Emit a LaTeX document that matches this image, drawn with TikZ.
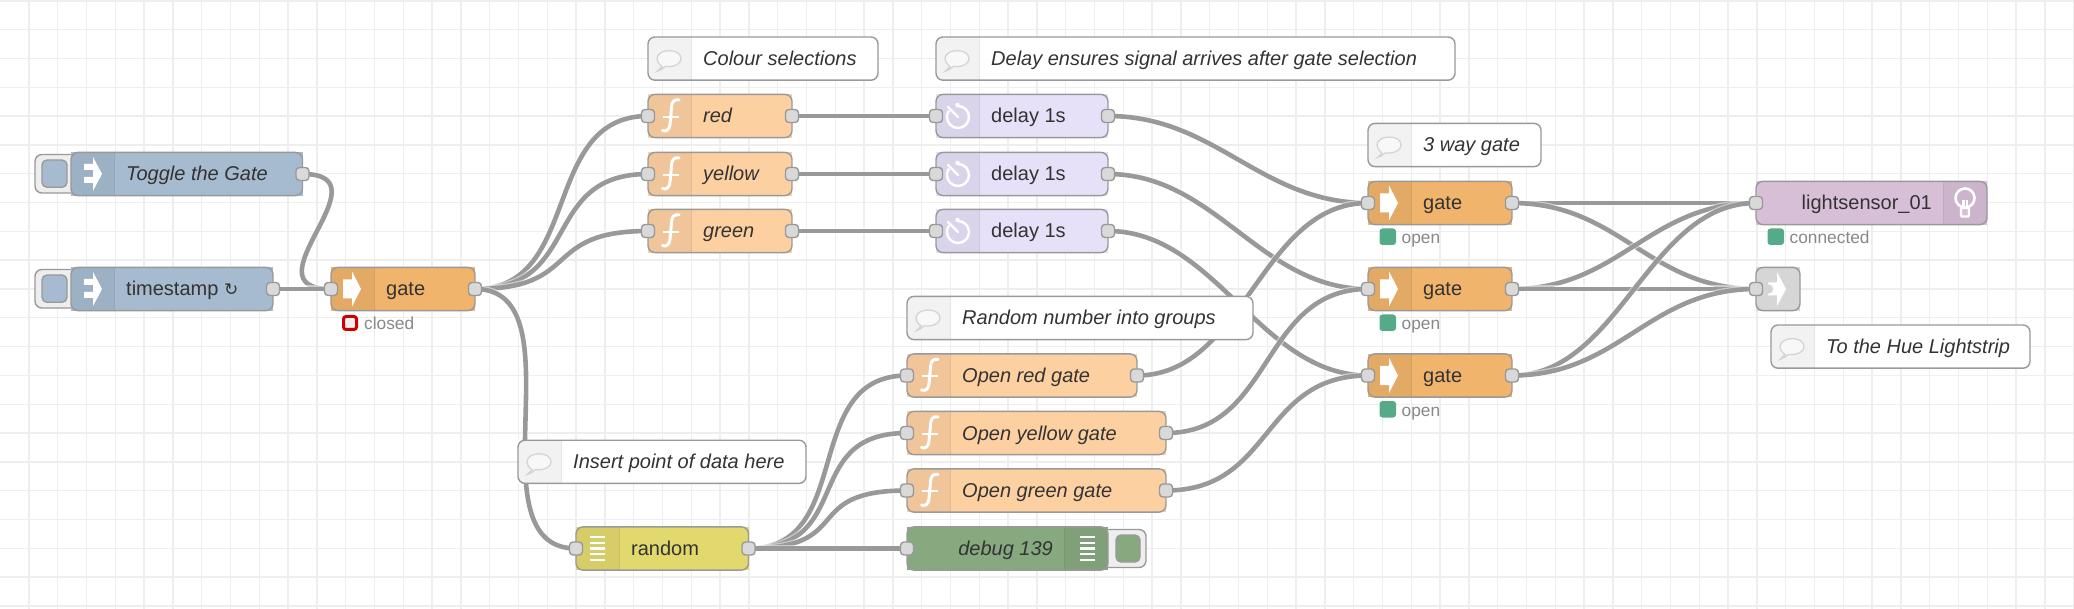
\documentclass[tikz,border=0pt]{standalone}
\usepackage{fontspec}
\setmainfont{Liberation Sans}
\newfontfamily\symfont{DejaVu Sans}
\usetikzlibrary{backgrounds}

\definecolor{gridcol}{HTML}{EEEEEE}
\definecolor{wirecol}{HTML}{999999}
\definecolor{edgecol}{HTML}{999999}
\definecolor{portcol}{HTML}{D9D9D9}
\definecolor{textcol}{HTML}{333333}
\definecolor{statuscol}{HTML}{888888}
\definecolor{injectcol}{HTML}{A6BBCF}
\definecolor{gatecol}{HTML}{F0B46C}
\definecolor{funccol}{HTML}{FDD0A2}
\definecolor{delaycol}{HTML}{E6E0F8}
\definecolor{randomcol}{HTML}{E2D96E}
\definecolor{debugcol}{HTML}{87A980}
\definecolor{huecol}{HTML}{D8BFD8}
\definecolor{linkcol}{HTML}{D6D6D6}
\definecolor{okcol}{HTML}{55AA88}
\definecolor{badcol}{HTML}{CC0000}
\definecolor{bubblecol}{HTML}{D4D4D4}

\tikzset{
  gridline/.style={gridcol,line width=1.4pt},
  wire/.style={wirecol,line width=4.6pt,preaction={draw=white,draw opacity=.5,line width=7pt}},
  flowbody/.style={shape=rectangle,inner sep=0pt,outer sep=0pt,minimum height=43.2pt},
  flowedge/.style={edgecol,line width=1.4pt,rounded corners=7pt},
  iconstrip/.style={fill=black,fill opacity=.05,draw=black,draw opacity=.1,line width=1.2pt},
  flowport/.style={shape=rectangle,rounded corners=3.5pt,draw=edgecol,fill=portcol,line width=1.4pt,
    minimum width=13pt,minimum height=13pt,inner sep=0pt},
  flowlabel/.style={inner sep=0pt,text=textcol,font=\fontsize{20}{24}\selectfont},
  statuslabel/.style={inner sep=0pt,text=statuscol,font=\fontsize{17.3}{20}\selectfont},
  iconline/.style={white,line width=2.4pt},
  buttonback/.style={edgecol,fill=gridcol,line width=1.4pt,rounded corners=7pt},
  buttonface/.style={edgecol,line width=1.4pt,rounded corners=5pt},
}

% box with its tinted icon strip, strip runs from #6 to #7
\newcommand{\flowbox}[7]{%
  \node[flowbody,fill=#5,minimum width={(#3-#2)*1pt}] (#1) at ({(#2+#3)/2},#4) {};
  \begin{scope}
    \clip[rounded corners=7pt] (#1.south west) rectangle (#1.north east);
    \path[iconstrip] (#6,0) rectangle (#7,609);
  \end{scope}
  \draw[flowedge] (#1.south west) rectangle (#1.north east);
}
% icon on the left, text after it
\newcommand{\leftnode}[6]{%
  \flowbox{#1}{#2}{#3}{#4}{#5}{#2-10}{#2+43.2}
  \node[flowlabel,anchor=base west] (#1text) at ({#2+55},{#4+7}) {#6};
}
% icon on the right, text before it
\newcommand{\rightnode}[6]{%
  \flowbox{#1}{#2}{#3}{#4}{#5}{#3-43.2}{#3+10}
  \node[flowlabel,anchor=base east] (#1text) at ({#3-55},{#4+7}) {#6};
}
\newcommand{\inport}[1]{\node[flowport] (#1in) at (#1.west) {};}
\newcommand{\outport}[1]{\node[flowport] (#1out) at (#1.east) {};}

% the comment boxes
\newcommand{\commentnode}[5]{%
  \leftnode{#1}{#2}{#3}{#4}{white}{\itshape #5}
  \begin{scope}[shift={(#1.west)}]
    \draw[bubblecol,line width=1.3pt,fill=white,fill opacity=.5]
      (14,8) .. controls (10,5) and (9,2) .. (9,0) .. controls (9,-5) and (15,-8) .. (21,-8)
      .. controls (28,-8) and (33,-5) .. (33,0) .. controls (33,5) and (27,8) .. (21,8)
      .. controls (19,8) and (18,8) .. (17,8) .. controls (15,10) and (12,12) .. (9.5,12.5)
      .. controls (11,11) and (13,9) .. (14,8) -- cycle;
  \end{scope}
}

% the icons
\newcommand{\injecticon}[1]{%
  \begin{scope}[shift={(#1.west)}]
    \fill[white] (13,-10) rectangle (22,-4) (13,3) rectangle (22,9)
      (22,-17) -- (31,0) -- (22,17) -- cycle;
  \end{scope}
}
\newcommand{\injectbutton}[1]{%
  \begin{scope}[shift={(#1.west)}]
    \draw[buttonback] (12,-19.5) -- (-36,-19.5) -- (-36,19) -- (12,19);
    \draw[buttonface,fill=injectcol] (-29,-14) rectangle (-4,13.3);
  \end{scope}
}
\newcommand{\gateicon}[1]{%
  \begin{scope}[shift={(#1.west)}]
    \fill[white] (12,-9.5) -- (21,-9.5) -- (21,-17.5) -- (30,0) -- (21,17.5) -- (21,9.5) -- (12,9.5) -- cycle;
  \end{scope}
}
\newcommand{\funcicon}[1]{%
  \begin{scope}[shift={(#1.west)}]
    \draw[white,line width=3pt,line cap=round] (31,-16) .. controls (26,-17) and (24,-14) .. (23.7,-10)
      -- (22,8) .. controls (21.5,14) and (18,16) .. (14.5,14.5);
    \draw[white,line width=2pt] (15,0.7) -- (31,0.7);
  \end{scope}
}
\newcommand{\delayicon}[1]{%
  \begin{scope}[shift={(#1.west)}]
    \draw[iconline] (22,-10) arc[start angle=-90,end angle=215,radius=11];
    \draw[iconline,line cap=round] (12,-9) -- (22,1);
    \fill[white] (21.5,-11) circle (2.2);
  \end{scope}
}
\newcommand{\listicon}[2]{%
  \begin{scope}[shift={(#1.west)}]
    \foreach \row in {-11.5,-5.75,0,5.75,11.5}
      \fill[white] (#2,\row-1.1) rectangle (#2+15,\row+1.1);
  \end{scope}
}
\newcommand{\bulbicon}[1]{%
  \begin{scope}[shift={(#1.east)}]
    \draw[iconline,line width=2.6pt] (-22,-5) circle (9.5);
    \draw[iconline] (-23.7,-3) -- (-23.7,6) (-20.3,-3) -- (-20.3,6);
    \draw[iconline,fill=huecol,rounded corners=1pt] (-26,5) rectangle (-18,13.5);
  \end{scope}
}
\newcommand{\linkicon}[1]{%
  \begin{scope}[shift={(#1.west)}]
    \fill[white] (12,-6.5) -- (21,-6.5) -- (21,-17) -- (30,0) -- (21,17) -- (21,6.5) -- (12,6.5) -- cycle;
    \fill[linkcol] (12.5,0) circle (4.7);
  \end{scope}
}
% status under a node
\newcommand{\okstatus}[2]{%
  \fill[okcol,rounded corners=3pt] ([shift={(11.5,25.5)}]#1.west) rectangle ([shift={(28,42)}]#1.west);
  \node[statuslabel,anchor=base west] (#1status) at ([shift={(33.5,41)}]#1.west) {#2};
}

\begin{document}
\begin{tikzpicture}[x=1pt,y=-1pt]
  \useasboundingbox (0,0) rectangle (2074,609);

  % the two inject nodes
  \leftnode{toggle}{71}{302.5}{174}{injectcol}{\itshape Toggle the Gate}
  \leftnode{stamp}{71}{273}{289}{injectcol}{timestamp {\symfont\fontsize{17}{20}\selectfont ↻}}

  % first gate
  \leftnode{maingate}{331}{475}{289}{gatecol}{gate}
  \node[statuslabel,anchor=base west] (maingatestatus) at (364,330) {closed};
  \draw[badcol,line width=3pt,fill=gridcol,rounded corners=2.5pt] (343.5,316.5) rectangle (356.5,329.5);

  % colour selections
  \commentnode{colournote}{648}{878}{58.6}{Colour selections}
  \leftnode{red}{648}{792}{116}{funccol}{\itshape red}
  \leftnode{yellow}{648}{792}{174}{funccol}{\itshape yellow}
  \leftnode{green}{648}{792}{231}{funccol}{\itshape green}

  % delays
  \commentnode{delaynote}{936}{1455}{58.6}{Delay ensures signal arrives after gate selection}
  \leftnode{delayred}{936}{1108}{116}{delaycol}{delay 1s}
  \leftnode{delayyellow}{936}{1108}{174}{delaycol}{delay 1s}
  \leftnode{delaygreen}{936}{1108}{231}{delaycol}{delay 1s}

  % random number and groups
  \commentnode{randomnote}{907}{1253}{318}{Random number into groups}
  \leftnode{openred}{907}{1137}{375.5}{funccol}{\itshape Open red gate}
  \leftnode{openyellow}{907}{1166}{433}{funccol}{\itshape Open yellow gate}
  \leftnode{opengreen}{907}{1166}{490.5}{funccol}{\itshape Open green gate}
  \commentnode{insertnote}{518}{806}{461.8}{Insert point of data here}
  \leftnode{random}{576}{748.5}{548.5}{randomcol}{random}
  \rightnode{debug}{907}{1108}{548.5}{debugcol}{\itshape debug 139}

  % 3 way gate
  \commentnode{waynote}{1368}{1541}{145}{3 way gate}
  \leftnode{gatered}{1368}{1512}{203}{gatecol}{gate}
  \leftnode{gateyellow}{1368}{1512}{289}{gatecol}{gate}
  \leftnode{gategreen}{1368}{1512}{375.5}{gatecol}{gate}

  % the lamp
  \rightnode{lamp}{1756}{1987}{203}{huecol}{lightsensor\_01}
  \node[flowbody,fill=linkcol,minimum width=44pt] (linkout) at (1778,289) {};
  \draw[flowedge] (linkout.south west) rectangle (linkout.north east);
  \commentnode{huenote}{1771}{2030}{346.6}{To the Hue Lightstrip}

  % icons and status
  \injecticon{toggle} \injecticon{stamp}
  \foreach \name in {maingate,gatered,gateyellow,gategreen} {\gateicon{\name}}
  \foreach \name in {red,yellow,green,openred,openyellow,opengreen} {\funcicon{\name}}
  \foreach \name in {delayred,delayyellow,delaygreen} {\delayicon{\name}}
  \listicon{random}{14}
  \listicon{debug}{173}
  \bulbicon{lamp}
  \linkicon{linkout}
  \foreach \name in {gatered,gateyellow,gategreen} {\okstatus{\name}{open}}
  \okstatus{lamp}{connected}

  % ports
  \foreach \name in {maingate,red,yellow,green,delayred,delayyellow,delaygreen,openred,openyellow,opengreen,random,debug,gatered,gateyellow,gategreen,lamp,linkout} {\inport{\name}}
  \foreach \name in {toggle,stamp,maingate,red,yellow,green,delayred,delayyellow,delaygreen,openred,openyellow,opengreen,random,gatered,gateyellow,gategreen} {\outport{\name}}

  % grid, wires and buttons go behind everything
  \begin{scope}[on background layer]
    \fill[white] (0,0) rectangle (2074,609);
    \foreach \i in {1,...,72} \draw[gridline] ({\i*28.8},0) -- ({\i*28.8},609);
    \foreach \i in {0,...,21} \draw[gridline] (0,{\i*28.8+1}) -- (2074,{\i*28.8+1});

    \draw[wire] (toggleout.center) .. controls +(88,0) and +(-88,0) .. (maingatein.center);
    \draw[wire] (stampout.center) -- (maingatein.center);
    \foreach \to in {red,yellow,green,random}
      \draw[wire] (maingateout.center) .. controls +(108,0) and +(-108,0) .. (\to in.center);
    \draw[wire] (redout.center) -- (delayredin.center);
    \draw[wire] (yellowout.center) -- (delayyellowin.center);
    \draw[wire] (greenout.center) -- (delaygreenin.center);
    \foreach \to in {openred,openyellow,opengreen}
      \draw[wire] (randomout.center) .. controls +(108,0) and +(-108,0) .. (\to in.center);
    \draw[wire] (randomout.center) -- (debugin.center);
    \foreach \from/\to in {delayred/gatered,delayyellow/gateyellow,delaygreen/gategreen,openred/gatered,openyellow/gateyellow,opengreen/gategreen}
      \draw[wire] (\from out.center) .. controls +(108,0) and +(-108,0) .. (\to in.center);
    \foreach \from in {gatered,gateyellow,gategreen} {
      \draw[wire] (\from out.center) .. controls +(108,0) and +(-108,0) .. (lampin.center);
      \draw[wire] (\from out.center) .. controls +(108,0) and +(-108,0) .. (linkoutin.center);
    }

    \injectbutton{toggle} \injectbutton{stamp}
    \begin{scope}[shift={(debug.east)}]
      \draw[buttonback] (-12,-19) -- (38,-19) -- (38,19) -- (-12,19);
      \draw[buttonface,fill=debugcol] (8,-13.5) rectangle (32,13.5);
    \end{scope}
  \end{scope}
\end{tikzpicture}
\end{document}
